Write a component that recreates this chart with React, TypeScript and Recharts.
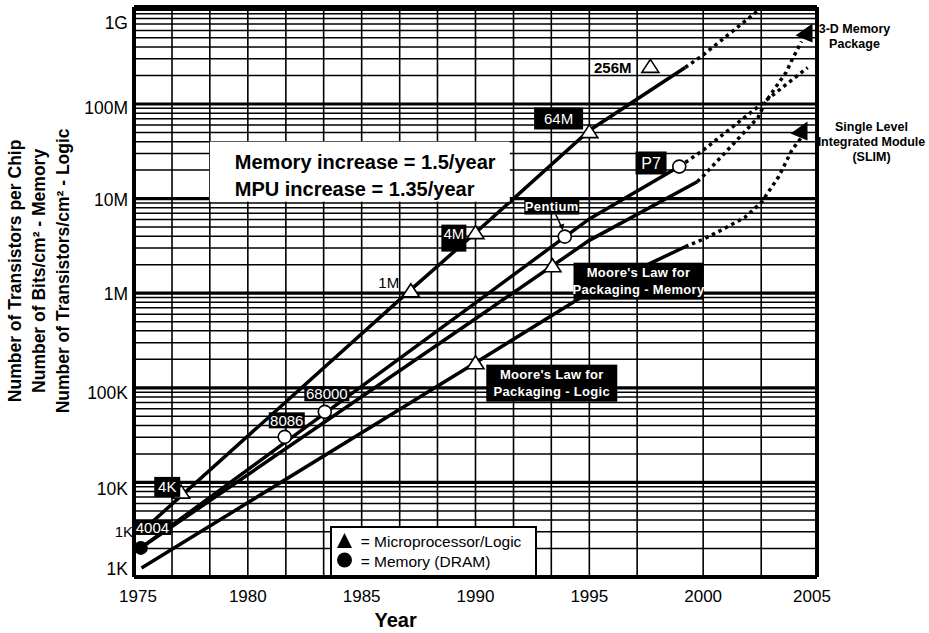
import React from 'react';
import { ComposedChart, Line, Scatter, XAxis, YAxis, ReferenceLine, Legend } from 'recharts';

const FONT = "'Liberation Sans', Arial, Helvetica, sans-serif";

// ---------- axes ----------
const yearTicks = [1975, 1980, 1985, 1990, 1995, 2000, 2005];
const valueTicks = [1e3, 1e4, 1e5, 1e6, 1e7, 1e8, 1e9];
const valueTickLabels = ['1K', '10K', '100K', '1M', '10M', '100M', '1G'];
const verticalGridYears = [1976.67, 1978.33, 1980, 1981.67, 1983.33, 1985, 1986.67, 1988.33, 1990, 1991.67, 1993.33, 1995, 1997.1, 2000, 2002.55];
const decadeStarts = [1e3, 1e4, 1e5, 1e6, 1e7, 1e8];
const gridMultipliers = [2, 3, 4, 5, 6, 7, 8, 9];
const decadeLines = [1e4, 1e5, 1e6, 1e7, 1e8, 1e9];
const Y_MIN = 1e3;
const Y_MAX = 1.06e9;

// ---------- trend lines (solid) ----------
const memoryTrendYears = [1975.65, 1987.16, 1990, 1995, 1999.21];
const memoryTrendValues = [3550, 1.09e6, 4.35e6, 5.25e7, 2.43e8];
const mpuTrendYears = [1975.3, 1990, 1995, 1998.95];
const mpuTrendValues = [2030, 7.9e5, 6.1e6, 2.18e7];
const pkgMemTrendYears = [1975.3, 1990, 1995, 1999.74];
const pkgMemTrendValues = [2030, 5.37e5, 3.62e6, 1.51e7];
const pkgLogicTrendYears = [1975.33, 1990, 1995, 1999.21];
const pkgLogicTrendValues = [1245, 1.84e5, 1.02e6, 3.1e6];

// ---------- projections (dotted) ----------
const memoryProjYears = [1999.21, 2000, 2002.59];
const memoryProjValues = [2.43e8, 3.3e8, 1.05e9];
const mpuProjYears = [1998.95, 2000, 2004.59];
const mpuProjValues = [2.18e7, 3.25e7, 2.43e8];
const pkgMemProjYears = [1999.74, 2000, 2002.41, 2002.73, 2003.18, 2003.64, 2003.91, 2004.14, 2004.32];
const pkgMemProjValues = [1.51e7, 1.73e7, 7.19e7, 1.04e8, 1.5e8, 2.15e8, 2.96e8, 3.78e8, 4.58e8];
const pkgLogicProjYears = [1999.21, 2000, 2000.59, 2001.82, 2002.55, 2003.32, 2003.91, 2004.32];
const pkgLogicProjValues = [3.1e6, 3.72e6, 4.37e6, 6.3e6, 9.07e6, 1.71e7, 3.3e7, 4.43e7];

// ---------- markers ----------
const triangleYears = [1977.07, 1987.16, 1990, 1995, 1997.68, 1993.38, 1990];
const triangleValues = [7900, 1.06e6, 4.37e6, 5.1e7, 2.5e8, 1.95e6, 1.84e5];
const circleYears = [1981.62, 1983.38, 1993.92, 1998.95];
const circleValues = [30300, 55700, 3.96e6, 2.18e7];
const filledCircleYears = [1975.3];
const filledCircleValues = [2030];
const arrowNames = ['3-D Memory\nPackage', 'Single Level\nIntegrated Module\n(SLIM)'];
const arrowYears = [2004.45, 2004.23];
const arrowValues = [5.71e8, 5.25e7];

// ---------- labels ----------
const chipLabels = ['4004', '4K', '8086', '68000', '1M', '4M', '64M', '256M', 'Pentium', 'P7', '1K'];
const chipLabelYears = [1975.81, 1976.46, 1981.71, 1983.47, 1986.19, 1989.05, 1993.65, 1996.03, 1993.35, 1997.71, 1975];
const chipLabelValues = [3340, 8960, 45300, 86500, 1.29e6, 3.82e6, 7.03e7, 2.43e8, 8.34e6, 2.38e7, 2990];
const lawLabels = ["Moore's Law for\nPackaging - Memory", "Moore's Law for\nPackaging - Logic"];
const lawLabelYears = [1997.16, 1993.35];
const lawLabelValues = [1.34e6, 1.12e5];
const rateNotes = ['Memory increase = 1.5/year', 'MPU increase = 1.35/year'];
const rateNoteYear = 1978.33;
const rateNoteValue = 4e7;
const legendLabels = ['= Microprocessor/Logic', '= Memory (DRAM)'];
const yTitleLines = ['Number of Transistors per Chip', 'Number of Bits/cm\u00B2 - Memory', 'Number of Transistors/cm\u00B2 - Logic'];
const xTitle = 'Year';

const pts = (xs: number[], ys: number[]) => xs.map((x, i) => ({ x, y: ys[i] }));

const memoryTrend = pts(memoryTrendYears, memoryTrendValues);
const mpuTrend = pts(mpuTrendYears, mpuTrendValues);
const pkgMemTrend = pts(pkgMemTrendYears, pkgMemTrendValues);
const pkgLogicTrend = pts(pkgLogicTrendYears, pkgLogicTrendValues);
const memoryProj = pts(memoryProjYears, memoryProjValues);
const mpuProj = pts(mpuProjYears, mpuProjValues);
const pkgMemProj = pts(pkgMemProjYears, pkgMemProjValues);
const pkgLogicProj = pts(pkgLogicProjYears, pkgLogicProjValues);
const triangles = pts(triangleYears, triangleValues);
const circles = pts(circleYears, circleValues);
const filledCircles = pts(filledCircleYears, filledCircleValues);
const arrows = arrowYears.map((x, i) => ({ x, y: arrowValues[i], text: arrowNames[i] }));
const annotations = [
  ...chipLabels.map((t, i) => ({ x: chipLabelYears[i], y: chipLabelValues[i], text: t })),
  ...lawLabels.map((t, i) => ({ x: lawLabelYears[i], y: lawLabelValues[i], text: t })),
];
const rateNote = [{ x: rateNoteYear, y: rateNoteValue }];

const minorLines = decadeStarts.flatMap((d) => gridMultipliers.map((m) => m * d));

type LabelStyle = { box: boolean; w?: number; h?: number; fs: number; bold?: boolean; ty?: number; anchor?: 'start' | 'middle' | 'end'; ls?: number; pointer?: boolean; lh?: number };
const labelStyles: Record<string, LabelStyle> = {
  '4004': { box: true, w: 38, h: 15, fs: 15 },
  '4K': { box: true, w: 26, h: 20, fs: 15 },
  '8086': { box: true, w: 36, h: 16, fs: 15 },
  '68000': { box: true, w: 45, h: 15, fs: 15 },
  '1M': { box: false, fs: 15 },
  '4M': { box: true, w: 25, h: 27, fs: 15, ty: -4 },
  '64M': { box: true, w: 49, h: 22, fs: 15 },
  '256M': { box: false, fs: 15, bold: true },
  Pentium: { box: true, w: 55, h: 17, fs: 13, bold: true, ls: 0.4, pointer: true },
  P7: { box: true, w: 31, h: 23, fs: 16 },
  '1K': { box: false, fs: 15, anchor: 'end' },
  "Moore's Law for\nPackaging - Memory": { box: true, w: 130, h: 37, fs: 13, bold: true, ls: 0.3, lh: 17 },
  "Moore's Law for\nPackaging - Logic": { box: true, w: 131, h: 37, fs: 13, bold: true, ls: 0.3, lh: 17 },
};

const arrowTextDx: Record<string, number> = {
  '3-D Memory\nPackage': 50,
  'Single Level\nIntegrated Module\n(SLIM)': 72,
};

function OpenTriangle(props: any) {
  const { cx, cy } = props;
  if (cx == null || cy == null) return <g />;
  return <polygon points={`${cx},${cy - 7} ${cx + 8.5},${cy + 6} ${cx - 8.5},${cy + 6}`} fill="#fff" stroke="#000" strokeWidth={1.6} />;
}
function OpenCircle(props: any) {
  const { cx, cy } = props;
  if (cx == null || cy == null) return <g />;
  return <circle cx={cx} cy={cy} r={6.5} fill="#fff" stroke="#000" strokeWidth={1.6} />;
}
function FilledCircle(props: any) {
  const { cx, cy } = props;
  if (cx == null || cy == null) return <g />;
  return <circle cx={cx} cy={cy} r={7} fill="#000" />;
}
function ArrowShape(props: any) {
  const { cx, cy, payload } = props;
  if (cx == null || cy == null || !payload) return <g />;
  const lines = String(payload.text).split('\n');
  const dx = arrowTextDx[payload.text] ?? 50;
  return (
    <g>
      <polygon points={`${cx + 8},${cy - 9} ${cx + 8},${cy + 10} ${cx - 9},${cy + 3}`} fill="#000" />
      {lines.map((l, i) => (
        <text key={i} x={cx + dx} y={cy - 4 + i * 15} dy="0.35em" textAnchor="middle" fontFamily={FONT} fontWeight="bold" fontSize={12.5} fill="#000">
          {l}
        </text>
      ))}
    </g>
  );
}
function AnnotationShape(props: any) {
  const { cx, cy, payload } = props;
  if (cx == null || cy == null || !payload) return <g />;
  const st = labelStyles[payload.text] || { box: false, fs: 14 };
  const lines = String(payload.text).split('\n');
  const lh = st.lh ?? st.fs * 1.15;
  const ty = st.ty ?? 0;
  const anchor = st.anchor ?? 'middle';
  const tx = anchor === 'end' ? cx - 1 : cx;
  const first = cy + ty - ((lines.length - 1) * lh) / 2 + st.fs * 0.35;
  const w = st.w ?? 0;
  const h = st.h ?? 0;
  return (
    <g>
      {st.box && <rect x={cx - w / 2} y={cy - h / 2} width={w} height={h} fill="#000" />}
      {st.pointer && (
        <g>
          <path d={`M${cx + 4},${cy + h / 2} L${cx + 10},${cy + h / 2 + 13}`} stroke="#000" strokeWidth={1.5} fill="none" />
          <polygon points={`${cx + 7},${cy + h / 2 + 11} ${cx + 12.5},${cy + h / 2 + 9} ${cx + 11},${cy + h / 2 + 16}`} fill="#000" />
        </g>
      )}
      {lines.map((l, i) => (
        <text key={i} x={tx} y={first + i * lh} textAnchor={anchor} fontFamily={FONT} fontSize={st.fs} fontWeight={st.bold ? 'bold' : 'normal'} letterSpacing={st.ls} fill={st.box ? '#fff' : '#000'}>
          {l}
        </text>
      ))}
    </g>
  );
}
function RateBox(props: any) {
  const { cx, cy } = props;
  if (cx == null || cy == null) return <g />;
  return (
    <g>
      <rect x={cx} y={cy} width={300} height={60} fill="#fff" />
      {rateNotes.map((t, i) => (
        <text key={i} x={cx + 25} y={cy + 27 + i * 27} fontFamily={FONT} fontWeight="bold" fontSize={20} fill="#000">
          {t}
        </text>
      ))}
    </g>
  );
}

const yTickShift: Record<string, number> = { '1000': -8, '10000': 6, '100000': 5, '1000000': 1, '10000000': 1, '100000000': 4, '1000000000': 13 };
function YTick(props: any) {
  const { x, y, payload } = props;
  const i = valueTicks.indexOf(payload.value);
  const shift = yTickShift[String(payload.value)] ?? 0;
  return (
    <text x={x} y={y + shift} dy="0.35em" textAnchor="end" fontFamily={FONT} fontSize={17.5} fill="#000">
      {i >= 0 ? valueTickLabels[i] : ''}
    </text>
  );
}
function XTick(props: any) {
  const { x, y, payload } = props;
  const shift = payload.value === 1975 ? 4 : payload.value === 2005 ? -5 : 0;
  return (
    <text x={x + shift} y={y} dy="0.71em" textAnchor="middle" fontFamily={FONT} fontSize={17} fill="#000">
      {payload.value}
    </text>
  );
}
function YTitle(props: any) {
  const vb = props.viewBox || { x: 0, y: 7, width: 134, height: 570 };
  const cy = vb.y + vb.height * 0.463;
  return (
    <g>
      {yTitleLines.map((t, i) => {
        const x = vb.x + 21 + i * 24;
        return (
          <text key={i} x={x} y={cy} transform={`rotate(-90 ${x} ${cy})`} textAnchor="middle" fontFamily={FONT} fontWeight="bold" fontSize={17.5} fill="#000">
            {t}
          </text>
        );
      })}
    </g>
  );
}
function XTitle(props: any) {
  const vb = props.viewBox || { x: 134, y: 577, width: 683, height: 56 };
  return (
    <text x={vb.x + vb.width * 0.383} y={vb.y + 50} textAnchor="middle" fontFamily={FONT} fontWeight="bold" fontSize={20} fill="#000">
      {xTitle}
    </text>
  );
}
function LegendBox() {
  return (
    <div style={{ width: 207, height: 51, boxSizing: 'border-box', border: '2px solid #000', background: '#fff', position: 'relative' }}>
      <svg width={203} height={47} style={{ position: 'absolute', left: 0, top: 0 }}>
        <polygon points="5,20 12.5,5 20,20" fill="#000" />
        <text x={28.7} y={19} fontFamily={FONT} fontSize={15.5} fill="#000">{legendLabels[0]}</text>
        <circle cx={12.5} cy={32} r={7.5} fill="#000" />
        <text x={28.7} y={39} fontFamily={FONT} fontSize={15.5} fill="#000">{legendLabels[1]}</text>
      </svg>
    </div>
  );
}

const solid = { stroke: '#000', strokeWidth: 3.5, dot: false, activeDot: false, isAnimationActive: false, legendType: 'none' as const, type: 'linear' as const };
const dotted = { ...solid, strokeDasharray: '3.5 3.8' };

export default function App() {
  return (
    <div style={{ position: 'absolute', left: 0, top: 0, background: '#fff' }}>
      <ComposedChart width={929} height={633} margin={{ top: 7, right: 112, bottom: 0, left: 0 }}>
        <XAxis
          dataKey="x"
          type="number"
          domain={[1975, 2005]}
          ticks={yearTicks}
          interval={0}
          axisLine={false}
          tickLine={false}
          tickSize={0}
          tickMargin={13}
          height={56}
          tick={XTick}
          label={XTitle}
        />
        <YAxis
          dataKey="y"
          type="number"
          scale="log"
          domain={[Y_MIN, Y_MAX]}
          ticks={valueTicks}
          interval={0}
          axisLine={false}
          tickLine={false}
          tickSize={0}
          tickMargin={6}
          width={134}
          tick={YTick}
          label={YTitle}
        />
        {minorLines.map((v) => (
          <ReferenceLine key={`h${v}`} y={v} stroke="#000" strokeWidth={1.5} />
        ))}
        {decadeLines.map((v) => (
          <ReferenceLine key={`d${v}`} y={v} stroke="#000" strokeWidth={3.2} />
        ))}
        {verticalGridYears.map((v) => (
          <ReferenceLine key={`v${v}`} x={v} stroke="#000" strokeWidth={1.6} />
        ))}
        <ReferenceLine x={1975} stroke="#000" strokeWidth={4} />
        <ReferenceLine x={2005} stroke="#000" strokeWidth={4} />
        <ReferenceLine y={Y_MIN} stroke="#000" strokeWidth={4} />
        <ReferenceLine y={Y_MAX} stroke="#000" strokeWidth={4} />

        <Line data={memoryTrend} dataKey="y" {...solid} />
        <Line data={mpuTrend} dataKey="y" {...solid} />
        <Line data={pkgMemTrend} dataKey="y" {...solid} />
        <Line data={pkgLogicTrend} dataKey="y" {...solid} />
        <Line data={memoryProj} dataKey="y" {...dotted} />
        <Line data={mpuProj} dataKey="y" {...dotted} />
        <Line data={pkgMemProj} dataKey="y" {...dotted} />
        <Line data={pkgLogicProj} dataKey="y" {...dotted} />

        <Scatter data={rateNote} shape={RateBox} isAnimationActive={false} legendType="none" />
        <Scatter data={triangles} shape={OpenTriangle} isAnimationActive={false} legendType="triangle" />
        <Scatter data={circles} shape={OpenCircle} isAnimationActive={false} legendType="circle" />
        <Scatter data={filledCircles} shape={FilledCircle} isAnimationActive={false} legendType="none" />
        <Scatter data={arrows} shape={ArrowShape} isAnimationActive={false} legendType="none" />
        <Scatter data={annotations} shape={AnnotationShape} isAnimationActive={false} legendType="none" />

        <Legend
          layout="vertical"
          align="center"
          verticalAlign="middle"
          wrapperStyle={{ position: 'absolute', left: 330, top: 526, width: 207, height: 51, margin: 0, padding: 0 }}
          content={() => <LegendBox />}
        />
      </ComposedChart>
    </div>
  );
}
